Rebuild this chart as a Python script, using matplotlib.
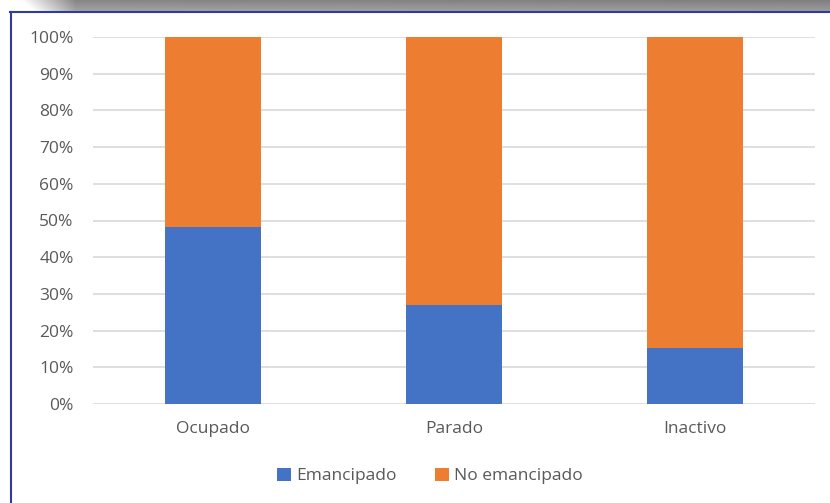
import matplotlib
matplotlib.use("Agg")
import matplotlib.pyplot as plt
import numpy as np
from matplotlib.lines import Line2D

categories = ["Ocupado", "Parado", "Inactivo"]
emancipado = [48.2, 27.0, 15.3]
no_emancipado = [100 - v for v in emancipado]
ytick_labels = ["0%", "10%", "20%", "30%", "40%", "50%", "60%", "70%", "80%", "90%", "100%"]
series_names = ["Emancipado", "No emancipado"]

W, H = 830, 503
fig = plt.figure(figsize=(W / 100, H / 100), dpi=100)
fig.patch.set_facecolor("white")

# top gray shadow band
bg = fig.add_axes([0, 1 - 11 / H, 1, 11 / H])
ncol = 400
grad = np.zeros((10, ncol, 3))
xs = np.linspace(0, 1, ncol)
for i, xv in enumerate(xs):
    if xv < 0.025:
        v = 1.0
    elif xv < 0.09:
        v = 1.0 - ((xv - 0.025) / 0.065) * 0.47
    else:
        v = 0.53 - 0.03 * xv
    for r in range(10):
        grad[r, i, :] = min(1.0, v + 0.012 * r)
bg.imshow(grad, aspect="auto", extent=[0, 1, 0, 1])
bg.axis("off")

# frame lines
fig.add_artist(Line2D([10 / W, 1], [1 - 11.5 / H, 1 - 11.5 / H], color="#2e3d9a", lw=1.5))
fig.add_artist(Line2D([10.5 / W, 10.5 / W], [0, 1 - 11.5 / H], color="#2e3d9a", lw=1.5))

ax = fig.add_axes([93 / W, 1 - 404 / H, (815 - 93) / W, (404 - 37) / H])
x = np.arange(len(categories))
blue = "#4472C4"
orange = "#ED7D31"
ax.bar(x, emancipado, width=0.4, color=blue, label=series_names[0], zorder=3)
ax.bar(x, no_emancipado, width=0.4, bottom=emancipado, color=orange, label=series_names[1], zorder=3)

ax.set_xlim(-0.5, 2.5)
ax.set_ylim(0, 100)
ax.set_yticks(np.arange(0, 101, 10))
ax.set_yticklabels(ytick_labels)
ax.set_xticks(x)
ax.set_xticklabels(categories)
ax.grid(axis="y", color="#d9d9d9", lw=1.2, zorder=0)
for s in ax.spines.values():
    s.set_visible(False)
ax.tick_params(axis="both", length=0, colors="#595959", labelsize=12.5)
ax.tick_params(axis="y", pad=14)
ax.tick_params(axis="x", pad=12)
for t in ax.get_xticklabels() + ax.get_yticklabels():
    t.set_fontfamily("Open Sans")

leg = fig.legend(loc="center", bbox_to_anchor=(430 / W, 1 - 476 / H), ncol=2, frameon=False,
                 handlelength=0.8, handleheight=0.8, handletextpad=0.3, columnspacing=2.2,
                 prop={"family": "Open Sans", "size": 12.5})
for t in leg.get_texts():
    t.set_color("#595959")

fig.savefig("out.png", dpi=100)
